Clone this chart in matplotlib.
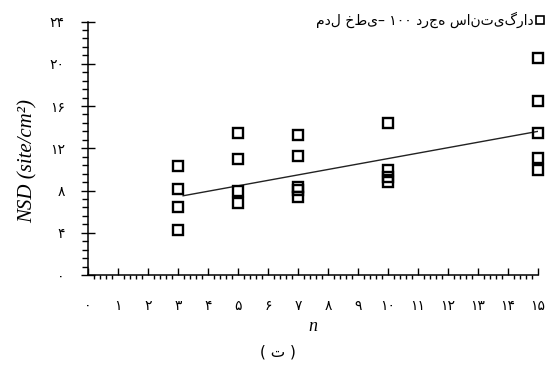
import matplotlib
matplotlib.use("Agg")
import matplotlib.pyplot as plt
from matplotlib.ticker import MultipleLocator, FixedLocator

# ---- data ----
n_values = [3, 3, 3, 3,
            5, 5, 5, 5,
            7, 7, 7, 7, 7,
            10, 10, 10, 10,
            15, 15, 15, 15, 15]
nsd_values = [10.3, 8.1, 6.4, 4.3,
              13.4, 11.0, 8.0, 6.8,
              13.3, 11.3, 8.35, 8.05, 7.4,
              14.4, 9.95, 9.3, 8.8,
              20.5, 16.5, 13.4, 11.05, 9.9]
fit_n = [3.17, 15]
fit_nsd = [7.5, 13.6]

persian_digits = "۰۱۲۳۴۵۶۷۸۹"
def fa(num):
    return "".join(persian_digits[int(c)] for c in str(num))

x_ticks = list(range(0, 16))
y_ticks = [0, 4, 8, 12, 16, 20, 24]
x_ticklabels = [fa(v) for v in x_ticks]
y_ticklabels = [fa(v) for v in y_ticks]

legend_label = "مدل خطی\u2013 " + fa(100) + " درجه سانتی\u200cگراد"
caption = "( ت )"

# ---- figure ----
fig = plt.figure(figsize=(5.56, 3.70), dpi=100)
ax = fig.add_axes([88 / 556, 95 / 370, 450 / 556, 253.5 / 370])

sq, = ax.plot(n_values, nsd_values, linestyle="none", marker="s",
              markersize=7.6, markerfacecolor="none", markeredgecolor="black",
              markeredgewidth=1.7, clip_on=False, zorder=3)
ax.plot(fit_n, fit_nsd, color="#222222", linewidth=1.0, zorder=2)

ax.set_xlim(0, 15)
ax.set_ylim(0, 24)

for s in ["top", "right"]:
    ax.spines[s].set_visible(False)
for s in ["left", "bottom"]:
    ax.spines[s].set_linewidth(1.1)

ax.xaxis.set_major_locator(FixedLocator(x_ticks))
ax.xaxis.set_minor_locator(MultipleLocator(0.2))
ax.yaxis.set_major_locator(FixedLocator(y_ticks))
ax.yaxis.set_minor_locator(MultipleLocator(0.8))
ax.set_xticklabels(x_ticklabels)
ax.set_yticklabels(y_ticklabels)

ax.tick_params(axis="x", which="major", direction="in", length=5, width=1.0,
               pad=17, labelsize=10)
ax.tick_params(axis="x", which="minor", direction="out", length=3, width=1.0)
ax.tick_params(axis="y", which="major", direction="inout", length=9.5, width=1.0,
               pad=12, labelsize=10)
ax.tick_params(axis="y", which="minor", direction="out", length=4.3, width=1.0)

ax.set_xlabel("n", fontfamily="Liberation Serif", fontstyle="italic",
              fontsize=13, labelpad=0)
ax.set_ylabel("NSD (site/cm²)", fontfamily="Liberation Serif",
              fontstyle="italic", fontsize=15)
ax.yaxis.set_label_coords(-0.113, 0.45)
ax.xaxis.set_label_coords(0.5, -0.171)

leg = ax.legend([sq], [legend_label], loc="upper right",
                bbox_to_anchor=(1.03, 1.06), frameon=False,
                markerfirst=False, handlelength=0.8, handletextpad=0.1,
                borderaxespad=0, markerscale=0.8,
                prop={"family": "DejaVu Sans", "size": 10})
for h in leg.legend_handles:
    h.set_markeredgewidth(1.2)

fig.text(278 / 556, 1 - 352 / 370, caption, ha="center", va="center",
         fontsize=11, fontfamily="DejaVu Sans")

fig.savefig("out.png", dpi=100)
